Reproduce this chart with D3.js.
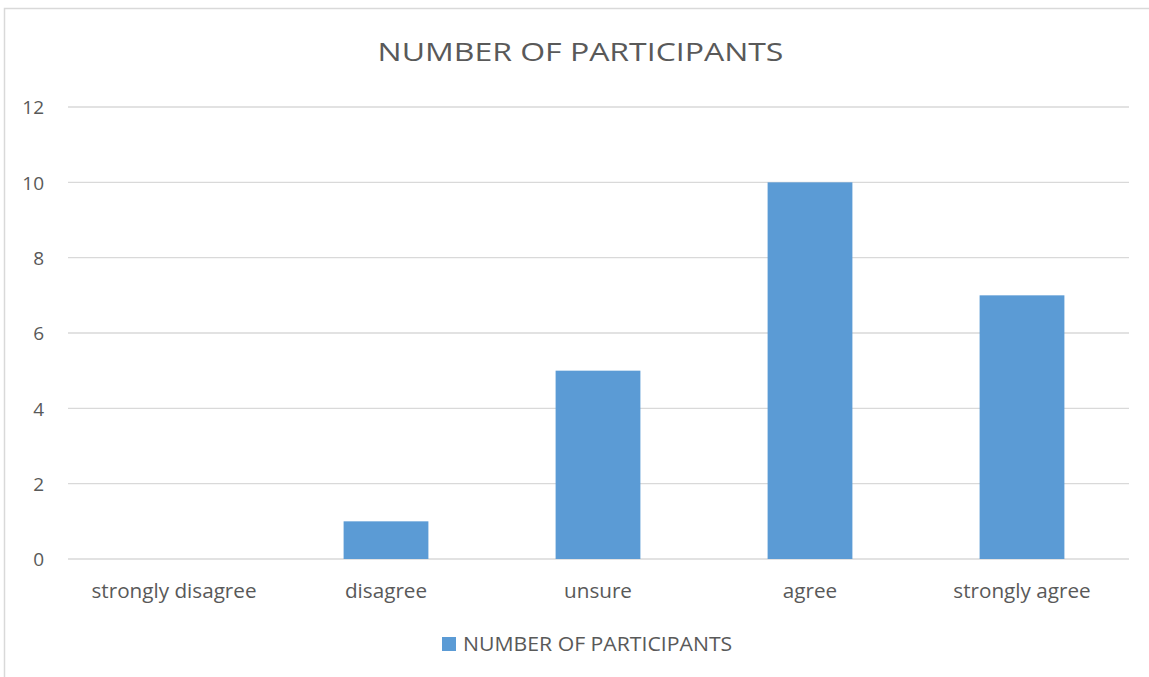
<!DOCTYPE html>
<html><head><meta charset="utf-8">
<script src="https://cdn.jsdelivr.net/npm/d3@7"></script>
<style>body{margin:0;background:#fff}svg{display:block}text{font-family:"Open Sans","Liberation Sans",sans-serif;fill:#595959}</style>
</head><body><svg id="c" width="1149" height="677"></svg>
<script>
const categories = ["strongly disagree","disagree","unsure","agree","strongly agree"];
const values = [0,1,5,10,7];
const yTicks = [0,2,4,6,8,10,12];
const seriesName = "NUMBER OF PARTICIPANTS";
const title = "NUMBER OF PARTICIPANTS";

function stretch(sel, factor){
  sel.each(function(){
    const w = this.getComputedTextLength();
    d3.select(this).attr("textLength", w*factor).attr("lengthAdjust","spacingAndGlyphs");
  });
}

const svg = d3.select("#c");
svg.append("rect").attr("x",4.5).attr("y",8.5).attr("width",1200).attr("height",700)
  .attr("fill","#fff").attr("stroke","#d9d9d9").attr("stroke-width",1.5);

const x = d3.scaleBand().domain(categories).range([68,1128]).paddingInner(0.6).paddingOuter(0.3);
const y = d3.scaleLinear().domain([0,12]).range([559,107]);

const g = svg.append("g");
g.selectAll("line.grid").data(yTicks).join("line").attr("class","grid")
  .attr("x1",68).attr("x2",1129).attr("y1",d=>y(d)).attr("y2",d=>y(d))
  .attr("stroke","#d9d9d9").attr("stroke-width",1.3);

const yAxis = d3.axisLeft(y).tickValues(yTicks).tickSize(0).tickPadding(0);
const ya = svg.append("g").attr("transform","translate(44,0)").call(yAxis);
ya.select(".domain").remove();
ya.selectAll("text").attr("font-size",19).style("fill","#595959").attr("dy","0.36em")
  .style("font-family","'Open Sans',sans-serif");

g.selectAll("rect.bar").data(values).join("rect").attr("class","bar")
  .attr("x",(d,i)=>x(categories[i])).attr("width",x.bandwidth())
  .attr("y",d=>y(d)).attr("height",d=>y(0)-y(d)).attr("fill","#5B9BD5");

const xAxis = d3.axisBottom(x).tickSize(0).tickPadding(0);
const xa = svg.append("g").attr("transform","translate(0,598)").call(xAxis);
xa.select(".domain").remove();
xa.selectAll("text").attr("font-size",19.5).attr("dy","0em").style("fill","#595959")
  .style("font-family","'Open Sans',sans-serif");
stretch(xa.selectAll("text"), 1.06);

const t = svg.append("text").attr("x",580.5).attr("y",61).attr("text-anchor","middle")
  .attr("font-size",26).text(title);
stretch(t, 1.23);

const lg = svg.append("g");
lg.append("rect").attr("x",442).attr("y",637).attr("width",14).attr("height",14).attr("fill","#5B9BD5");
const lt = lg.append("text").attr("x",463).attr("y",651).attr("font-size",20.5).text(seriesName);
stretch(lt, 1.035);
</script></body></html>
